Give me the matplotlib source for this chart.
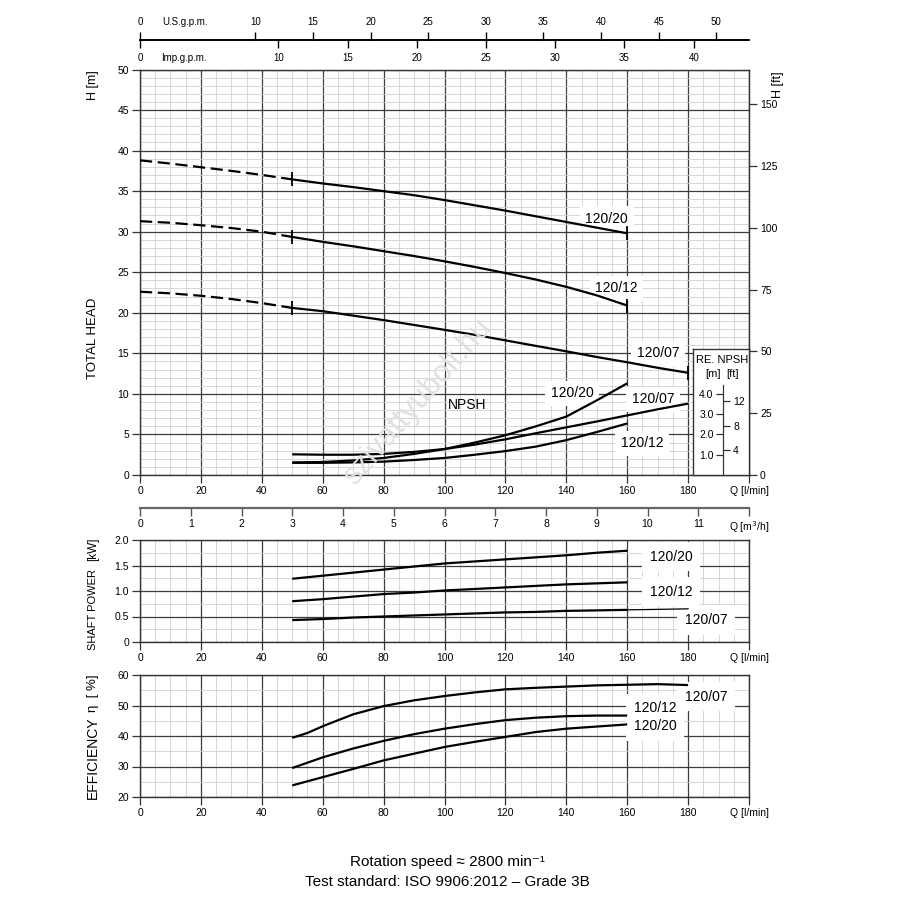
import matplotlib
matplotlib.use('Agg')
import matplotlib.pyplot as plt
from matplotlib.ticker import MultipleLocator, FixedLocator, FixedFormatter

plt.rcParams['font.family'] = ['Liberation Sans Narrow', 'Liberation Sans', 'DejaVu Sans']

# ---------------- data ----------------
models = ['120/20', '120/12', '120/07']

# Head curves (H in m, Q in l/min): dashed part and solid part
q_head_dash = [0, 10, 20, 30, 40, 50]
h20_dash = [38.8, 38.4, 37.95, 37.5, 37.0, 36.45]
h12_dash = [31.3, 31.1, 30.8, 30.45, 30.0, 29.35]
h07_dash = [22.6, 22.4, 22.1, 21.7, 21.2, 20.6]

q_head_160 = [50, 60, 70, 80, 90, 100, 110, 120, 130, 140, 150, 160]
q_head_180 = [50, 60, 70, 80, 90, 100, 110, 120, 130, 140, 150, 160, 170, 180]
h20 = [36.45, 35.95, 35.5, 35.0, 34.5, 33.9, 33.25, 32.6, 31.9, 31.2, 30.5, 29.8]
h12 = [29.35, 28.75, 28.2, 27.6, 27.0, 26.35, 25.65, 24.9, 24.1, 23.2, 22.15, 20.9]
h07 = [20.6, 20.2, 19.65, 19.1, 18.5, 17.9, 17.28, 16.6, 15.92, 15.25, 14.55, 13.9, 13.22, 12.6]

# Required NPSH (m)
npsh20 = [0.62, 0.64, 0.72, 0.84, 1.04, 1.28, 1.6, 1.96, 2.4, 2.88, 3.68, 4.52]
npsh12 = [0.6, 0.6, 0.62, 0.66, 0.74, 0.84, 1.0, 1.18, 1.4, 1.72, 2.12, 2.54]
npsh07 = [1.02, 1.0, 1.0, 1.04, 1.14, 1.28, 1.5, 1.76, 2.06, 2.35, 2.64, 2.94, 3.24, 3.52]

# Shaft power (kW)
p20 = [1.24, 1.30, 1.36, 1.42, 1.48, 1.54, 1.58, 1.62, 1.66, 1.70, 1.75, 1.79]
p12 = [0.80, 0.84, 0.89, 0.94, 0.97, 1.01, 1.04, 1.07, 1.10, 1.13, 1.15, 1.17]
p07 = [0.43, 0.45, 0.48, 0.50, 0.52, 0.54, 0.56, 0.58, 0.59, 0.61, 0.62, 0.63, 0.64, 0.65]

# Efficiency (%)
q_eff_07 = [50, 55, 60, 70, 80, 90, 100, 110, 120, 130, 140, 150, 160, 170, 180]
e07 = [39.4, 41.0, 43.2, 47.1, 49.8, 51.7, 53.1, 54.3, 55.3, 55.8, 56.2, 56.6, 56.8, 57.0, 56.7]
e12 = [29.5, 33.0, 35.9, 38.4, 40.6, 42.4, 43.9, 45.2, 46.0, 46.5, 46.7, 46.7]
e20 = [23.8, 26.5, 29.2, 32.0, 34.2, 36.4, 38.1, 39.7, 41.3, 42.4, 43.1, 43.8]

q_ticks = [0, 20, 40, 60, 80, 100, 120, 140, 160, 180, 200]
q_ticklabels = ['0', '20', '40', '60', '80', '100', '120', '140', '160', '180', 'Q [l/min]']
m3h_ticks = list(range(0, 13))
m3h_ticklabels = [str(v) for v in range(0, 12)] + ['Q [m$^3$/h]']
us_ticks = [0, 10, 15, 20, 25, 30, 35, 40, 45, 50]
imp_ticks = [0, 10, 15, 20, 25, 30, 35, 40]
ft_ticks = [0, 25, 50, 75, 100, 125, 150]
npsh_m_ticks = [1, 2, 3, 4]
npsh_m_labels = ['1.0', '2.0', '3.0', '4.0']
npsh_ft_ticks = [4, 8, 12]

NPSH_SCALE = 2.5   # 1 m NPSH drawn as 2.5 m on head axis
L_PER_USG = 3.785411784
L_PER_IMPG = 4.54609
FT_PER_M = 3.28084

# ---------------- layout ----------------
def fx(px):
    return px / 900.0

def fy(py):
    return 1 - py / 900.0

XL, XR = 140, 749
fig = plt.figure(figsize=(9, 9), dpi=100)
ax = fig.add_axes([fx(XL), fy(475), (XR - XL) / 900, (475 - 69.5) / 900])
axp = fig.add_axes([fx(XL), fy(642), (XR - XL) / 900, (642 - 540) / 900])
axe = fig.add_axes([fx(XL), fy(797), (XR - XL) / 900, (797 - 675) / 900])

GRID_MAJ = '#3c3c3c'
GRID_MIN = '#d0d0d0'
FRAME = '#333333'
TICK_FS = 7.5


def style(a, ylim, ymaj, ymin, yfmt=None):
    a.set_xlim(0, 200)
    a.set_ylim(*ylim)
    a.set_xticks(q_ticks)
    a.set_xticklabels(q_ticklabels)
    a.xaxis.set_minor_locator(MultipleLocator(5))
    a.yaxis.set_major_locator(MultipleLocator(ymaj))
    a.yaxis.set_minor_locator(MultipleLocator(ymin))
    if yfmt is not None:
        a.yaxis.set_major_formatter(yfmt)
    a.grid(which='minor', color=GRID_MIN, lw=0.6)
    a.grid(which='major', color=GRID_MAJ, lw=0.9)
    a.set_axisbelow(True)
    a.tick_params(which='major', direction='out', length=6, width=0.9,
                  color=FRAME, labelsize=TICK_FS, pad=2)
    a.tick_params(which='minor', length=0)
    for s in a.spines.values():
        s.set_color(FRAME)
        s.set_linewidth(1.0)


style(ax, (0, 50), 5, 1)
style(axp, (0, 2.0), 0.5, 0.25,
      yfmt=matplotlib.ticker.FuncFormatter(lambda v, p: '0' if v == 0 else f'{v:.1f}'))
style(axe, (20, 60), 10, 5)

LINE = dict(color='black', lw=1.6, zorder=3, solid_capstyle='butt')
LBL = dict(ha='center', va='center', fontsize=10, zorder=2.5,
           bbox=dict(boxstyle='square,pad=0.4', fc='white', ec='none'))
LBL2 = dict(ha='center', va='center', fontsize=10, zorder=2.5,
            bbox=dict(boxstyle='square,pad=0.55', fc='white', ec='none'))

# ---- head curves ----
for hd, hs, qs in [(h20_dash, h20, q_head_160), (h12_dash, h12, q_head_160),
                   (h07_dash, h07, q_head_180)]:
    ax.plot(q_head_dash, hd, ls=(0, (5.5, 2.5)), **LINE)
    ax.plot(qs, hs, marker='|', markevery=[0, len(qs) - 1], ms=10, mew=1.3, **LINE)

ax.text(153.3, 31.6, '120/20', **LBL)
ax.text(156.5, 23.0, '120/12', **LBL)
ax.text(170.2, 15.0, '120/07', **LBL)

# ---- NPSH curves ----
for n, qs in [(npsh20, q_head_160), (npsh12, q_head_160), (npsh07, q_head_180)]:
    ax.plot(qs, [v * NPSH_SCALE for v in n], **LINE)

ax.text(101, 8.6, 'NPSH', ha='left', va='center', fontsize=10, zorder=2.5)
ax.text(142, 10.1, '120/20', **LBL)
ax.text(168.5, 9.36, '120/07', **LBL)
ax.text(164.8, 3.9, '120/12', **LBL)

# ---- secondary axes of head chart ----
sec_ft = ax.secondary_yaxis('right', functions=(lambda m: m * FT_PER_M, lambda f: f / FT_PER_M))
sec_ft.set_yticks(ft_ticks)
sec_ft.tick_params(direction='out', length=6, width=0.9, color=FRAME, labelsize=TICK_FS, pad=2)
sec_ft.spines['right'].set_color(FRAME)

loc_top = 1 + (69.5 - 40) / 405.5
sec_us = ax.secondary_xaxis(loc_top, functions=(lambda q: q / L_PER_USG, lambda g: g * L_PER_USG))
sec_us.set_xticks(us_ticks)
sec_us.xaxis.set_minor_locator(FixedLocator([3.9]))
sec_us.xaxis.set_minor_formatter(FixedFormatter(['U.S.g.p.m.']))
sec_us.tick_params(which='major', direction='out', length=6, width=1.0, color='black',
                   labelsize=7, pad=3)
sec_us.tick_params(which='minor', length=0, labelsize=7, pad=9)
sec_us.spines['top'].set_linewidth(1.2)

sec_imp = ax.secondary_xaxis(loc_top, functions=(lambda q: q / L_PER_IMPG, lambda g: g * L_PER_IMPG))
sec_imp.set_alignment('bottom')
sec_imp.set_xticks(imp_ticks)
sec_imp.xaxis.set_minor_locator(FixedLocator([3.2]))
sec_imp.xaxis.set_minor_formatter(FixedFormatter(['Imp.g.p.m.']))
sec_imp.tick_params(which='major', direction='out', length=6, width=1.0, color='black',
                    labelsize=7, pad=3)
sec_imp.tick_params(which='minor', length=0, labelsize=7, pad=9)
sec_imp.spines['bottom'].set_linewidth(1.2)

loc_m3 = -(507.7 - 475) / 405.5
sec_m3 = ax.secondary_xaxis(loc_m3, functions=(lambda q: q * 0.06, lambda m: m / 0.06))
sec_m3.set_xticks(m3h_ticks)
sec_m3.set_xticklabels(m3h_ticklabels)
sec_m3.tick_params(direction='out', length=6, width=1.0, color='#555555',
                   labelsize=TICK_FS, pad=2)
sec_m3.spines['bottom'].set_color('#666666')
sec_m3.spines['bottom'].set_linewidth(1.6)

# ---- RE. NPSH inset scale ----
in_w = (749 - 693.3) / 609.0
in_h = (475 - 349.3) / 405.5
ax_in = ax.inset_axes([1 - in_w, 0, in_w, in_h])
ax_in.set_xlim(0, 1)
ax_in.set_ylim(0, in_h * 50 / NPSH_SCALE)
ax_in.set_xticks([])
ax_in.set_yticks([])
ax_in.set_facecolor('white')
for s in ax_in.spines.values():
    s.set_color(FRAME)
    s.set_linewidth(1.0)
ax_in.text(0.51, 0.915, 'RE. NPSH', transform=ax_in.transAxes, ha='center', va='center', fontsize=8)
ax_in.text(0.36, 0.80, '[m]', transform=ax_in.transAxes, ha='center', va='center', fontsize=8)
ax_in.text(0.70, 0.80, '[ft]', transform=ax_in.transAxes, ha='center', va='center', fontsize=8)

scale_top = (475 - 385) / 8.11 / NPSH_SCALE
in_x = (723.3 - 693.3) / 55.7
sn_m = ax_in.secondary_yaxis(in_x)
sn_m.set_alignment('left')
sn_m.set_yticks(npsh_m_ticks)
sn_m.set_yticklabels(npsh_m_labels)
sn_m.tick_params(direction='out', length=5, width=0.9, color=FRAME, labelsize=7.5, pad=2)
sn_m.spines['left'].set_bounds(0, scale_top)
sn_m.spines['left'].set_color(FRAME)

sn_ft = ax_in.secondary_yaxis(in_x, functions=(lambda m: m * FT_PER_M, lambda f: f / FT_PER_M))
sn_ft.set_alignment('right')
sn_ft.set_yticks(npsh_ft_ticks)
sn_ft.tick_params(direction='out', length=5, width=0.9, color=FRAME, labelsize=7.5, pad=2)
sn_ft.spines['right'].set_bounds(0, scale_top * FT_PER_M)
sn_ft.spines['right'].set_color(FRAME)

# ---- shaft power ----
axp.plot(q_head_160, p20, **LINE)
axp.plot(q_head_160, p12, **LINE)
i160 = q_head_180.index(160)
axp.plot(q_head_180[:i160 + 1], p07[:i160 + 1], **LINE)
axp.plot(q_head_180[i160:], p07[i160:], color='black', lw=0.9, zorder=3)
axp.text(174.4, 1.67, '120/20', **LBL2)
axp.text(174.4, 0.99, '120/12', **LBL2)
axp.text(186.0, 0.43, '120/07', **LBL2)

# ---- efficiency ----
axe.plot(q_eff_07, e07, **LINE)
axe.plot(q_head_160, e12, **LINE)
axe.plot(q_head_160, e20, **LINE)
axe.text(186.0, 52.9, '120/07', **LBL2)
axe.text(169.1, 49.1, '120/12', **LBL2)
axe.text(169.1, 43.2, '120/20', **LBL2)

# ---- axis titles ----
fig.text(fx(93), fy(85), 'H [m]', rotation=90, ha='center', va='center', fontsize=9)
fig.text(fx(93), fy(338), 'TOTAL HEAD', rotation=90, ha='center', va='center', fontsize=9.5)
fig.text(fx(778), fy(85), 'H [ft]', rotation=90, ha='center', va='center', fontsize=9)
fig.text(fx(93), fy(549), '[kW]', rotation=90, ha='center', va='center', fontsize=8.5)
fig.text(fx(93), fy(610), 'SHAFT POWER', rotation=90, ha='center', va='center', fontsize=8)
fig.text(fx(93), fy(693), 'η  [ %]', rotation=90, ha='center', va='center', fontsize=9.5)
fig.text(fx(93), fy(758), 'EFFICIENCY', rotation=90, ha='center', va='center', fontsize=10)

# watermark
fig.text(fx(418), fy(402), 'szivattyubolt.hu', rotation=49, ha='center', va='center',
         fontsize=22, color='#e0e0e0', zorder=0.5, family=['Liberation Sans', 'DejaVu Sans'])

# footer
fig.text(fx(447), fy(862), 'Rotation speed ≈ 2800 min⁻¹', ha='center', va='center',
         fontsize=11, family=['Liberation Sans', 'DejaVu Sans'])
fig.text(fx(447), fy(882), 'Test standard: ISO 9906:2012 – Grade 3B', ha='center', va='center',
         fontsize=11, family=['Liberation Sans', 'DejaVu Sans'])

fig.savefig('out.png', dpi=100)
